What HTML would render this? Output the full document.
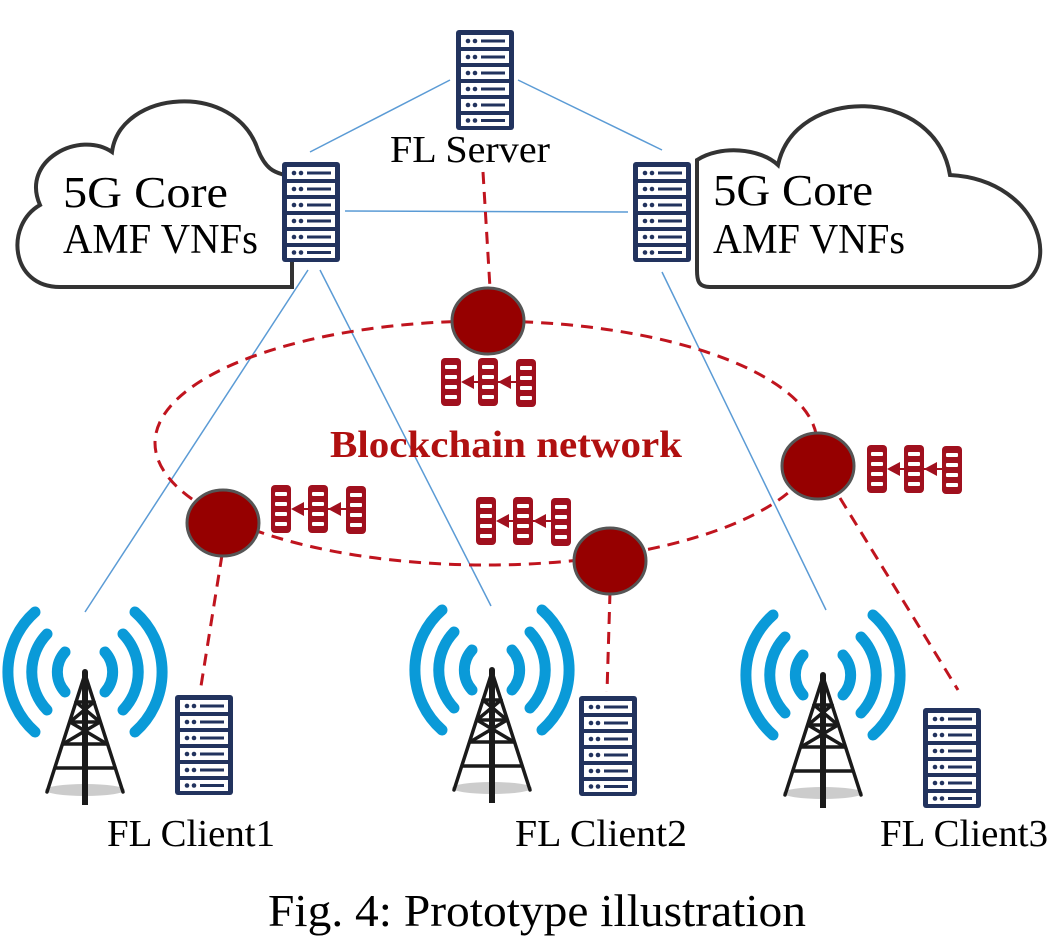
<!DOCTYPE html>
<html><head><meta charset="utf-8"><style>
html,body{margin:0;padding:0;background:#fff;}
svg{display:block;}
text{font-family:"Liberation Serif",serif;}
</style></head><body>
<svg width="1062" height="949" viewBox="0 0 1062 949" xmlns="http://www.w3.org/2000/svg">
<defs>
<g id="srv">
<rect x="0" y="0" width="58" height="100" rx="3" fill="#22335e"/>
<g fill="#fff">
<rect x="5" y="5" width="48" height="12"/><rect x="5" y="21" width="48" height="12"/><rect x="5" y="37" width="48" height="12"/>
<rect x="5" y="53" width="48" height="12"/><rect x="5" y="69" width="48" height="12"/><rect x="5" y="85" width="48" height="11"/>
</g>
<g fill="#22335e">
<circle cx="12" cy="11" r="2.3"/><circle cx="19" cy="11" r="2.3"/><rect x="25" y="9.5" width="24" height="3"/>
<circle cx="12" cy="27" r="2.3"/><circle cx="19" cy="27" r="2.3"/><rect x="25" y="25.5" width="24" height="3"/>
<circle cx="12" cy="43" r="2.3"/><circle cx="19" cy="43" r="2.3"/><rect x="25" y="41.5" width="24" height="3"/>
<circle cx="12" cy="59" r="2.3"/><circle cx="19" cy="59" r="2.3"/><rect x="25" y="57.5" width="24" height="3"/>
<circle cx="12" cy="75" r="2.3"/><circle cx="19" cy="75" r="2.3"/><rect x="25" y="73.5" width="24" height="3"/>
<circle cx="12" cy="90.5" r="2.3"/><circle cx="19" cy="90.5" r="2.3"/><rect x="25" y="89" width="24" height="3"/>
</g>
</g>
<g id="blk">
<rect x="0" y="0" width="20" height="48" rx="4" fill="#a0101e"/>
<g fill="#fff"><rect x="4" y="7" width="12" height="4" rx="1"/><rect x="4" y="17" width="12" height="4" rx="1"/><rect x="4" y="27" width="12" height="4" rx="1"/><rect x="4" y="37" width="12" height="4" rx="1"/></g>
</g>
<g id="chain">
<use href="#blk" x="0" y="0"/><use href="#blk" x="37" y="0"/><use href="#blk" x="75" y="1"/>
<line x1="22" y1="24" x2="75" y2="24" stroke="#a0101e" stroke-width="2"/>
<polygon points="20,24 33,17 33,31" fill="#a0101e"/>
<polygon points="57,24 70,17 70,31" fill="#a0101e"/>
</g>
<g id="tower">
<g fill="none" stroke="#0a9ad8" stroke-width="11" stroke-linecap="round">
<path d="M -50,-60 A 80 80 0 0 0 -50 60"/><path d="M 50,-60 A 80 80 0 0 1 50 60"/>
<path d="M -38,-38 A 55 55 0 0 0 -38 38"/><path d="M 38,-38 A 55 55 0 0 1 38 38"/>
<path d="M -20,-20 A 30 30 0 0 0 -20 20"/><path d="M 20,-20 A 30 30 0 0 1 20 20"/>
</g>
<ellipse cx="0" cy="118" rx="40" ry="6" fill="#ccc"/>
<g stroke="#1a1a1a" stroke-width="3.5" fill="none" stroke-linecap="round">
<line x1="0" y1="2" x2="-38" y2="120"/><line x1="0" y1="2" x2="38" y2="120"/>
<line x1="-9" y1="30" x2="9" y2="30"/><line x1="-15" y1="50" x2="15" y2="50"/>
<line x1="-22" y1="72" x2="22" y2="72"/><line x1="-30" y1="96" x2="30" y2="96"/>
<line x1="-9" y1="30" x2="15" y2="50"/><line x1="9" y1="30" x2="-15" y2="50"/>
<line x1="-15" y1="50" x2="22" y2="72"/><line x1="15" y1="50" x2="-22" y2="72"/>
</g>
<line x1="0" y1="0" x2="0" y2="133" stroke="#1a1a1a" stroke-width="6"/>
<circle cx="0" cy="0" r="3" fill="#1a1a1a"/>
</g>
</defs>

<path d="M 60,287 C 10,287 5,225 40,205 C 20,160 80,130 112,152 C 120,90 235,80 258,150 C 270,180 285,170 292,180 L 292,287 Z" fill="#fff" stroke="#333" stroke-width="4"/>
<path d="M 697,160 C 720,145 760,148 778,165 C 795,85 935,85 950,175 C 1045,180 1065,280 1010,287 L 710,287 C 698,287 697,280 697,270 Z" fill="#fff" stroke="#333" stroke-width="4"/>

<g stroke="#5b9bd5" stroke-width="1.5" fill="none">
<line x1="450" y1="80" x2="310" y2="152"/>
<line x1="518" y1="80" x2="662" y2="150"/>
<line x1="345" y1="211" x2="628" y2="212"/>
<line x1="308" y1="270" x2="85" y2="612"/>
<line x1="320" y1="270" x2="491" y2="606"/>
<line x1="662" y1="272" x2="826" y2="610"/>
</g>

<g stroke="#c0141e" stroke-width="3" fill="none" stroke-dasharray="12,8">
<ellipse cx="486" cy="443" rx="331" ry="122"/>
<line x1="483" y1="172" x2="490" y2="288"/>
<line x1="222" y1="555" x2="201" y2="686"/>
<line x1="610" y1="592" x2="607" y2="692"/>
<line x1="840" y1="498" x2="958" y2="690"/>
</g>

<use href="#srv" x="456" y="30"/>
<use href="#srv" x="282" y="162"/>
<use href="#srv" x="633" y="162"/>
<use href="#srv" x="175" y="695"/>
<use href="#srv" x="579" y="696"/>
<use href="#srv" x="923" y="708"/>

<g fill="#960000" stroke="#555" stroke-width="3">
<ellipse cx="488" cy="321" rx="36" ry="33"/>
<ellipse cx="223" cy="523" rx="36" ry="33"/>
<ellipse cx="610" cy="561" rx="36" ry="33"/>
<ellipse cx="818" cy="466" rx="36" ry="33"/>
</g>

<use href="#chain" x="441" y="358"/>
<use href="#chain" x="271" y="485"/>
<use href="#chain" x="476" y="497"/>
<use href="#chain" x="867" y="445"/>

<use href="#tower" x="85" y="672"/>
<use href="#tower" x="492" y="670"/>
<use href="#tower" x="823" y="675"/>

<text x="390" y="162" font-size="38" textLength="160" lengthAdjust="spacingAndGlyphs">FL Server</text>
<text x="63" y="207" font-size="44" textLength="165" lengthAdjust="spacingAndGlyphs">5G Core</text>
<text x="63" y="253" font-size="42" textLength="195" lengthAdjust="spacingAndGlyphs">AMF VNFs</text>
<text x="713" y="205" font-size="44" textLength="160" lengthAdjust="spacingAndGlyphs">5G Core</text>
<text x="713" y="253" font-size="42" textLength="192" lengthAdjust="spacingAndGlyphs">AMF VNFs</text>
<text x="330" y="457" font-size="38" font-weight="bold" fill="#b01010" textLength="352" lengthAdjust="spacingAndGlyphs">Blockchain network</text>
<text x="107" y="846" font-size="38" textLength="168" lengthAdjust="spacingAndGlyphs">FL Client1</text>
<text x="515" y="846" font-size="38" textLength="172" lengthAdjust="spacingAndGlyphs">FL Client2</text>
<text x="880" y="846" font-size="38" textLength="168" lengthAdjust="spacingAndGlyphs">FL Client3</text>
<text x="268" y="926" font-size="46" textLength="538" lengthAdjust="spacingAndGlyphs">Fig. 4: Prototype illustration</text>
</svg>
</body></html>
